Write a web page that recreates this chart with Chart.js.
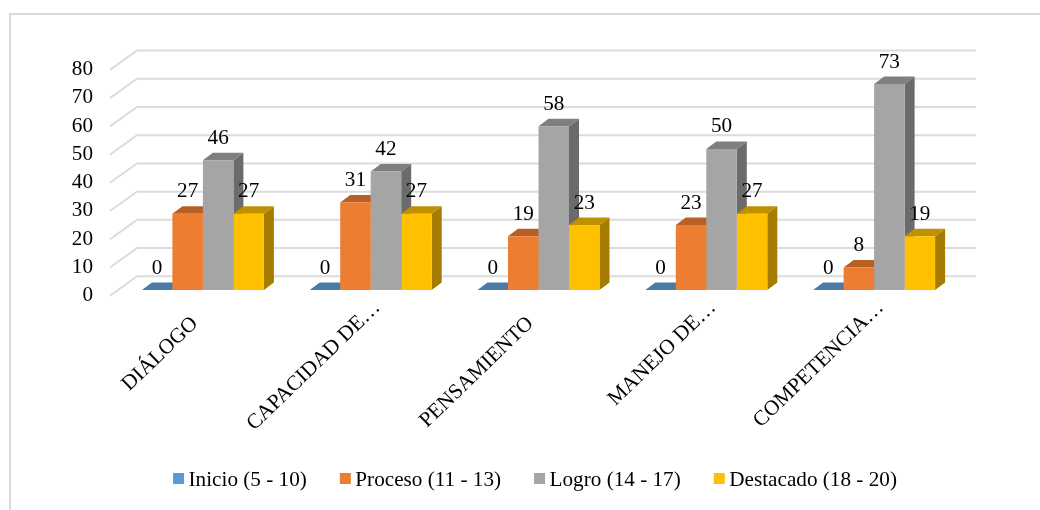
<!DOCTYPE html>
<html>
<head>
<meta charset="utf-8">
<style>
  html, body { margin: 0; padding: 0; background: #fff; overflow: hidden; }
  #wrap { position: relative; width: 1040px; height: 510px; }
  #marco { position: absolute; left: 9px; top: 13px; width: 1040px; height: 510px;
           border-left: 2px solid #d9d9d9; border-top: 2px solid #d9d9d9; }
  canvas { position: absolute; left: 0; top: 0; }
</style>
</head>
<body>
<div id="wrap"><div id="marco"></div><canvas id="myChart" width="1040" height="510"></canvas></div>
<script src="https://cdn.jsdelivr.net/npm/chart.js@4/dist/chart.umd.js"></script>
<script>
const categorias = ['DIÁLOGO', 'CAPACIDAD DE…', 'PENSAMIENTO', 'MANEJO DE…', 'COMPETENCIA…'];
const nombres = ['Inicio (5 - 10)', 'Proceso (11 - 13)', 'Logro (14 - 17)', 'Destacado (18 - 20)'];
const inicio = [0, 0, 0, 0, 0];
const proceso = [27, 31, 19, 23, 8];
const logro = [46, 42, 58, 50, 73];
const destacado = [27, 27, 23, 27, 19];

const colores = ['#5b9bd5', '#ed7d31', '#a5a5a5', '#ffc000'];
const techos = ['#4a7ba7', '#b85f26', '#7f7f7f', '#bf9000'];
const lados = ['#41719c', '#a5582a', '#6b6b6b', '#a67c00'];

const fuente = '"Liberation Serif", serif';
const tam = 21.2;

// profundidad de cada barra
const barDx = 10, barDy = 7.5;

const caras3d = {
  id: 'caras3d',
  beforeDatasetsDraw(chart) {
    const c = chart.ctx;
    const y = chart.scales.y;
    // paredes: linea diagonal + linea de fondo
    c.save();
    c.strokeStyle = '#dcdcdc';
    c.lineWidth = 2;
    y.ticks.forEach(t => {
      const py = y.getPixelForValue(t.value);
      c.beginPath();
      c.moveTo(110, py + 5.7);
      c.lineTo(137, py - 13.7);
      c.lineTo(976, py - 13.7);
      c.stroke();
    });
    // techo y lado de cada barra, de izquierda a derecha
    categorias.forEach((_, i) => {
      chart.data.datasets.forEach((ds, d) => {
        const b = chart.getDatasetMeta(d).data[i];
        const l = b.x - b.width / 2, r = b.x + b.width / 2;
        c.fillStyle = lados[d];
        c.beginPath();
        c.moveTo(r, b.y);
        c.lineTo(r + barDx, b.y - barDy);
        c.lineTo(r + barDx, b.base - barDy);
        c.lineTo(r, b.base);
        c.closePath();
        c.fill();
        c.fillStyle = techos[d];
        c.beginPath();
        c.moveTo(l, b.y);
        c.lineTo(l + barDx, b.y - barDy);
        c.lineTo(r + barDx, b.y - barDy);
        c.lineTo(r, b.y);
        c.closePath();
        c.fill();
      });
    });
    c.restore();
  },
  afterDatasetsDraw(chart) {
    const c = chart.ctx;
    c.save();
    c.font = tam + 'px ' + fuente;
    c.fillStyle = '#000';
    c.textAlign = 'center';
    c.textBaseline = 'middle';
    chart.data.datasets.forEach((ds, d) => {
      chart.getDatasetMeta(d).data.forEach((b, i) => {
        c.fillText(ds.data[i], b.x, b.y - 22);
      });
    });
    c.restore();
  },
  afterDraw(chart) {
    const c = chart.ctx;
    // etiquetas del eje x: las recortadas con … quedan mas arriba que las completas
    const x = chart.scales.x;
    c.save();
    c.font = tam + 'px ' + fuente;
    c.fillStyle = '#000';
    c.textAlign = 'right';
    c.textBaseline = 'middle';
    categorias.forEach((cat, i) => {
      const recortada = cat.endsWith('…');
      c.save();
      c.translate(x.getPixelForTick(i) + (recortada ? 6.5 : -8), x.top + (recortada ? 14.5 : 30.5));
      c.rotate(-44 * Math.PI / 180);
      c.fillText(cat, 0, 0);
      c.restore();
    });
    c.restore();

    // leyenda: el hueco cuadro-texto es mas corto que el de la leyenda nativa
    c.save();
    c.font = tam + 'px ' + fuente;
    c.textBaseline = 'middle';
    const anchos = nombres.map(n => c.measureText(n).width);
    const total = anchos.reduce((a, b) => a + b + 15.5, 0) + 33 * (nombres.length - 1);
    let lx = 535 - total / 2;
    nombres.forEach((n, i) => {
      c.fillStyle = colores[i];
      c.fillRect(lx, 473, 11, 11);
      c.fillStyle = '#000';
      c.fillText(n, lx + 15.5, 480);
      lx += 15.5 + anchos[i] + 33;
    });
    c.restore();
  }
};

new Chart(document.getElementById('myChart'), {
  type: 'bar',
  data: {
    labels: categorias,
    datasets: [
      { label: nombres[0], data: inicio, backgroundColor: colores[0] },
      { label: nombres[1], data: proceso, backgroundColor: colores[1] },
      { label: nombres[2], data: logro, backgroundColor: colores[2] },
      { label: nombres[3], data: destacado, backgroundColor: colores[3] }
    ]
  },
  options: {
    responsive: false,
    animation: false,
    layout: { padding: { left: 0, right: 82, top: 64.2, bottom: 0 } },
    datasets: { bar: { categoryPercentage: 0.727, barPercentage: 1 } },
    plugins: { legend: { display: false }, tooltip: { enabled: false } },
    scales: {
      x: {
        grid: { display: false },
        border: { display: false },
        afterFit(s) { s.height = 220; },
        ticks: { display: false, autoSkip: false, maxRotation: 0 }
      },
      y: {
        min: 0,
        max: 80,
        grid: { display: false },
        border: { display: false },
        afterFit(s) { s.width = 119; },
        ticks: {
          stepSize: 10,
          autoSkip: false,
          padding: 18,
          labelOffset: 5.5,
          color: '#000',
          font: { family: fuente, size: tam }
        }
      }
    }
  },
  plugins: [caras3d]
});
</script>
</body>
</html>
